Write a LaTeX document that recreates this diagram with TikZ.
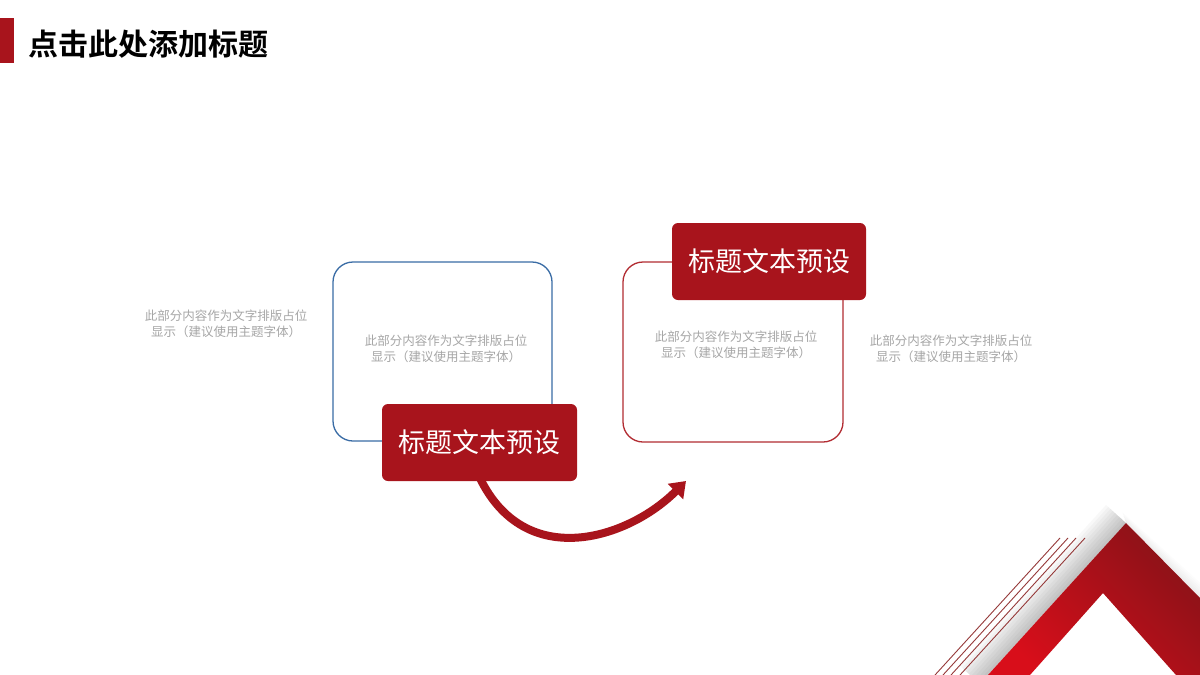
\documentclass[tikz,border=0pt]{standalone}
\usepackage{fontspec}
\usepackage{xcolor}
\usepackage{tikz}
\newfontfamily\cjk{Noto Sans CJK SC}
\newfontfamily\cjkbold{Noto Sans CJK SC Bold}
\definecolor{themered}{RGB}{168, 20, 28}
\definecolor{boxred}{RGB}{178, 44, 50}
\definecolor{boxblue}{RGB}{58, 108, 165}
\definecolor{notegray}{RGB}{166, 166, 166}
\definecolor{hairred}{RGB}{150, 58, 58}
\definecolor{brightred}{RGB}{216, 14, 26}
\definecolor{deepred}{RGB}{138, 18, 24}
\usetikzlibrary{arrows.meta, positioning, calc}

\begin{document}
\begin{tikzpicture}[
    x=1pt, y=-1pt,
    outlinebox/.style={rectangle, rounded corners=20pt, line width=1.3pt,
                minimum width=219pt, minimum height=179pt, inner sep=0pt},
    labelbox/.style={rectangle, fill=themered, rounded corners=6pt,
                minimum width=195pt, minimum height=77pt, inner sep=0pt,
                text=white, font=\cjk\fontsize{27}{30}\selectfont},
    note/.style={align=center, text=notegray, inner sep=0pt,
                font=\cjk\fontsize{12.5}{16}\selectfont},
    flow/.style={-{Triangle[length=15pt, width=21pt]}, line width=8pt, themered},
    hairline/.style={hairred, line width=0.9pt}
]
    \clip (0,0) rectangle (1200,675);
    \fill[white] (0,0) rectangle (1200,675);

    % Title
    \fill[themered] (0,18) rectangle (14,63);
    \node[anchor=west, inner sep=0pt, font=\cjkbold\fontsize{30}{34}\selectfont] (title) at (28,44) {点击此处添加标题};

    \node[outlinebox, draw=boxblue] (bluebox) at (442.5,351.5) {};
    \node[note] (bluenote) at (446,348.5) {此部分内容作为文字排版占位\\显示（建议使用主题字体）};
    \node[outlinebox, draw=boxred, minimum width=220pt, minimum height=180pt] (redbox) at (733,352) {};
    \node[note] (rednote) at (736,344.5) {此部分内容作为文字排版占位\\显示（建议使用主题字体）};
    \node[note] (leftnote) at (226,324) {此部分内容作为文字排版占位\\显示（建议使用主题字体）};
    \node[note] (rightnote) at (951,348.5) {此部分内容作为文字排版占位\\显示（建议使用主题字体）};

    \node[labelbox] (bluelabel) at (479.5,442.5) {标题文本预设};
    \node[labelbox, minimum width=194pt] (redlabel) at (769,261.5) {标题文本预设};

    \coordinate (arrowtip) at (686,481);
    \draw[flow] ([yshift=4pt]bluelabel.south) .. controls (525,572) and (628,539) .. (arrowtip);

    % Corner ornament
    \foreach \d in {3,6,...,27}
        \fill[black, opacity=0.028] (980,684) -- (1126,523) -- ++(-0.74*\d,-0.67*\d)
            -- ($(980,684)+(-0.74*\d,-0.67*\d)$) -- cycle;
    \foreach \d in {2,4,...,12}
        \fill[black, opacity=0.012] (1126,523) -- (1206,604) -- ++(0.71*\d,-0.70*\d)
            -- ($(1126,523)+(-0.3*\d,-0.9*\d)$) -- cycle;
    \foreach \t in {1060,1068,1076,1085}
        \draw[hairline] (\t,538) -- ++(-125,137);
    \shade[top color=deepred, bottom color=brightred, shading angle=-45]
        (988,675) -- (1126,523) -- (1200,598) -- (1200,675) -- (1176,675)
        -- (1103,593) -- (1030,675) -- cycle;
\end{tikzpicture}
\end{document}
